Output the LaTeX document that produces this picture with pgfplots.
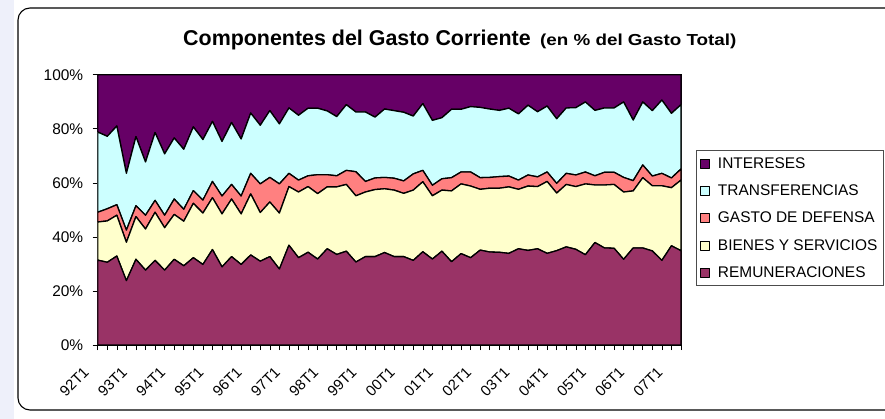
\documentclass[border=0pt]{standalone}
\usepackage{fontspec}
\setmainfont{Liberation Sans}
\usepackage{pgfplots}
\usepackage{pgfplotstable}
\pgfplotsset{compat=1.18}
\definecolor{cInt}{HTML}{660066}
\definecolor{cTra}{HTML}{CCFFFF}
\definecolor{cDef}{HTML}{FF8080}
\definecolor{cBie}{HTML}{FFFFCC}
\definecolor{cRem}{HTML}{993366}
\definecolor{lavbg}{HTML}{EEF0FA}
\pgfplotstableread{
x R B D T I
0 31.4 14.1 3.6 29.7 21.2
1 30.6 15.3 4.5 26.8 22.8
2 32.9 15.1 3.9 29.1 19.0
3 23.8 14.2 4.5 21.0 36.5
4 31.7 15.8 4.0 25.6 22.9
5 27.7 15.2 5.1 19.7 32.3
6 31.3 17.8 4.4 25.1 21.4
7 27.7 15.7 4.6 22.7 29.3
8 31.7 16.6 5.7 22.6 23.4
9 29.3 16.5 4.4 22.2 27.6
10 32.3 20.1 4.7 23.6 19.3
11 29.8 19.0 4.8 22.4 24.0
12 35.3 19.2 6.0 22.2 17.3
13 28.9 19.6 6.6 20.2 24.7
14 32.7 21.3 5.4 22.9 17.7
15 29.8 18.7 6.6 21.1 23.8
16 33.3 22.6 7.6 22.3 14.2
17 31.0 18.0 10.6 21.7 18.7
18 32.7 20.2 9.1 24.7 13.3
19 28.1 20.7 10.8 22.2 18.2
20 36.9 21.7 4.9 24.2 12.3
21 32.3 24.3 4.4 24.0 15.0
22 34.3 24.3 4.0 25.0 12.4
23 31.8 24.2 7.0 24.6 12.4
24 35.6 22.9 4.5 23.6 13.4
25 33.5 25.0 4.1 21.9 15.5
26 34.7 24.7 5.2 24.3 11.1
27 30.7 24.5 8.9 22.1 13.8
28 32.7 23.9 3.9 25.7 13.8
29 32.7 24.8 4.3 22.5 15.7
30 34.2 23.6 4.2 25.3 12.7
31 32.7 24.6 4.4 25.0 13.3
32 32.7 23.4 4.6 25.4 13.9
33 31.3 26.0 6.0 21.4 15.3
34 34.5 25.9 4.2 24.7 10.7
35 31.8 23.4 3.9 24.0 16.9
36 34.7 22.6 4.2 22.6 15.9
37 30.8 26.2 4.9 25.3 12.8
38 33.8 25.8 4.4 23.2 12.8
39 32.3 26.5 5.2 24.2 11.8
40 35.1 22.5 4.3 26.0 12.1
41 34.4 23.6 4.0 25.3 12.7
42 34.3 23.7 4.3 24.5 13.2
43 33.9 24.6 4.0 25.1 12.4
44 35.6 22.0 3.4 24.5 14.5
45 35.0 23.8 4.1 25.8 11.3
46 35.6 23.0 3.6 24.1 13.7
47 33.9 26.6 3.5 24.4 11.6
48 34.9 21.3 3.6 23.9 16.3
49 36.3 23.1 4.1 24.2 12.3
50 35.4 23.2 4.3 24.9 12.2
51 33.4 26.2 4.4 25.9 10.1
52 37.9 21.3 3.4 24.2 13.2
53 35.9 23.3 4.7 23.8 12.3
54 35.8 23.6 4.5 23.8 12.3
55 31.7 24.9 5.4 27.9 10.1
56 35.9 21.1 3.8 22.4 16.8
57 35.9 26.0 4.7 23.3 10.1
58 34.8 24.1 3.6 24.2 13.3
59 31.3 27.6 4.6 27.1 9.4
60 36.7 21.5 3.6 23.9 14.3
61 34.9 26.1 4.1 23.8 11.1
}\datatable

\pgfplotsset{
  myleg/.style={legend image code/.code={\draw[##1, draw=black, line width=0.6bp] (0bp,-4.5bp) rectangle (9bp,4.5bp);}},
  areaplot/.style={draw=black, line width=1.3bp, line join=round, myleg}
}

\begin{document}
\begin{tikzpicture}
\useasboundingbox (0bp,0bp) rectangle (885bp,419bp);
\begin{scope}
\clip (0bp,0bp) rectangle (885bp,419bp);
\fill[lavbg] (0bp,0bp) rectangle (14bp,419bp);
\draw[line width=1.1bp, rounded corners=12bp] (930bp,411bp) -- (18bp,411bp) -- (18bp,9bp) -- (930bp,9bp);
\end{scope}
\node[anchor=base west, inner sep=0pt] at (183bp,373bp) {\fontsize{21.5}{24}\selectfont\bfseries Componentes del Gasto Corriente};
\node[anchor=base west, inner sep=0pt] at (540bp,373bp) {\scalebox{1.18}[1]{\fontsize{16}{18}\selectfont\bfseries (en \% del Gasto Total)}};
\begin{axis}[
  at={(97.7bp,74bp)}, anchor=south west,
  width=583.3bp, height=270.3bp, scale only axis,
  stack plots=y,
  xmin=0, xmax=61, ymin=0, ymax=100,
  axis line style={black, line width=0.9bp},
  tick align=outside,
  xtick pos=lower, ytick pos=left,
  xtick={0,4,...,60},
  minor xtick={0,...,61},
  xticklabels={92T1,93T1,94T1,95T1,96T1,97T1,98T1,99T1,00T1,01T1,02T1,03T1,04T1,05T1,06T1,07T1},
  major tick length=5bp, minor tick length=5bp,
  tick style={black, line width=0.6bp},
  ytick={0,20,...,100},
  yticklabel={\pgfmathprintnumber{\tick}\%},
  /pgf/number format/assume math mode=true,
  yticklabel style={font=\fontsize{15.5}{18}\selectfont, xshift=-6bp},
  xticklabel style={font=\fontsize{15}{18}\selectfont, xshift=-9bp, yshift=-17bp, rotate=45, anchor=east},
  reverse legend,
  legend cell align=left,
  legend style={at={(1.0257,0.721)}, anchor=north west, draw=black!70, line width=0.8bp,
    font=\fontsize{15.5}{18}\selectfont, row sep=11bp, column sep=6bp, inner xsep=4bp, inner ysep=5bp},
]
\addplot[fill=cRem, areaplot] table[x=x,y=R]{\datatable} \closedcycle;
\addplot[fill=cBie, areaplot] table[x=x,y=B]{\datatable} \closedcycle;
\addplot[fill=cDef, areaplot] table[x=x,y=D]{\datatable} \closedcycle;
\addplot[fill=cTra, areaplot] table[x=x,y=T]{\datatable} \closedcycle;
\addplot[fill=cInt, areaplot] table[x=x,y=I]{\datatable} \closedcycle;
\legend{REMUNERACIONES,BIENES Y SERVICIOS,GASTO DE DEFENSA,TRANSFERENCIAS,INTERESES}
\end{axis}
\end{tikzpicture}
\end{document}
